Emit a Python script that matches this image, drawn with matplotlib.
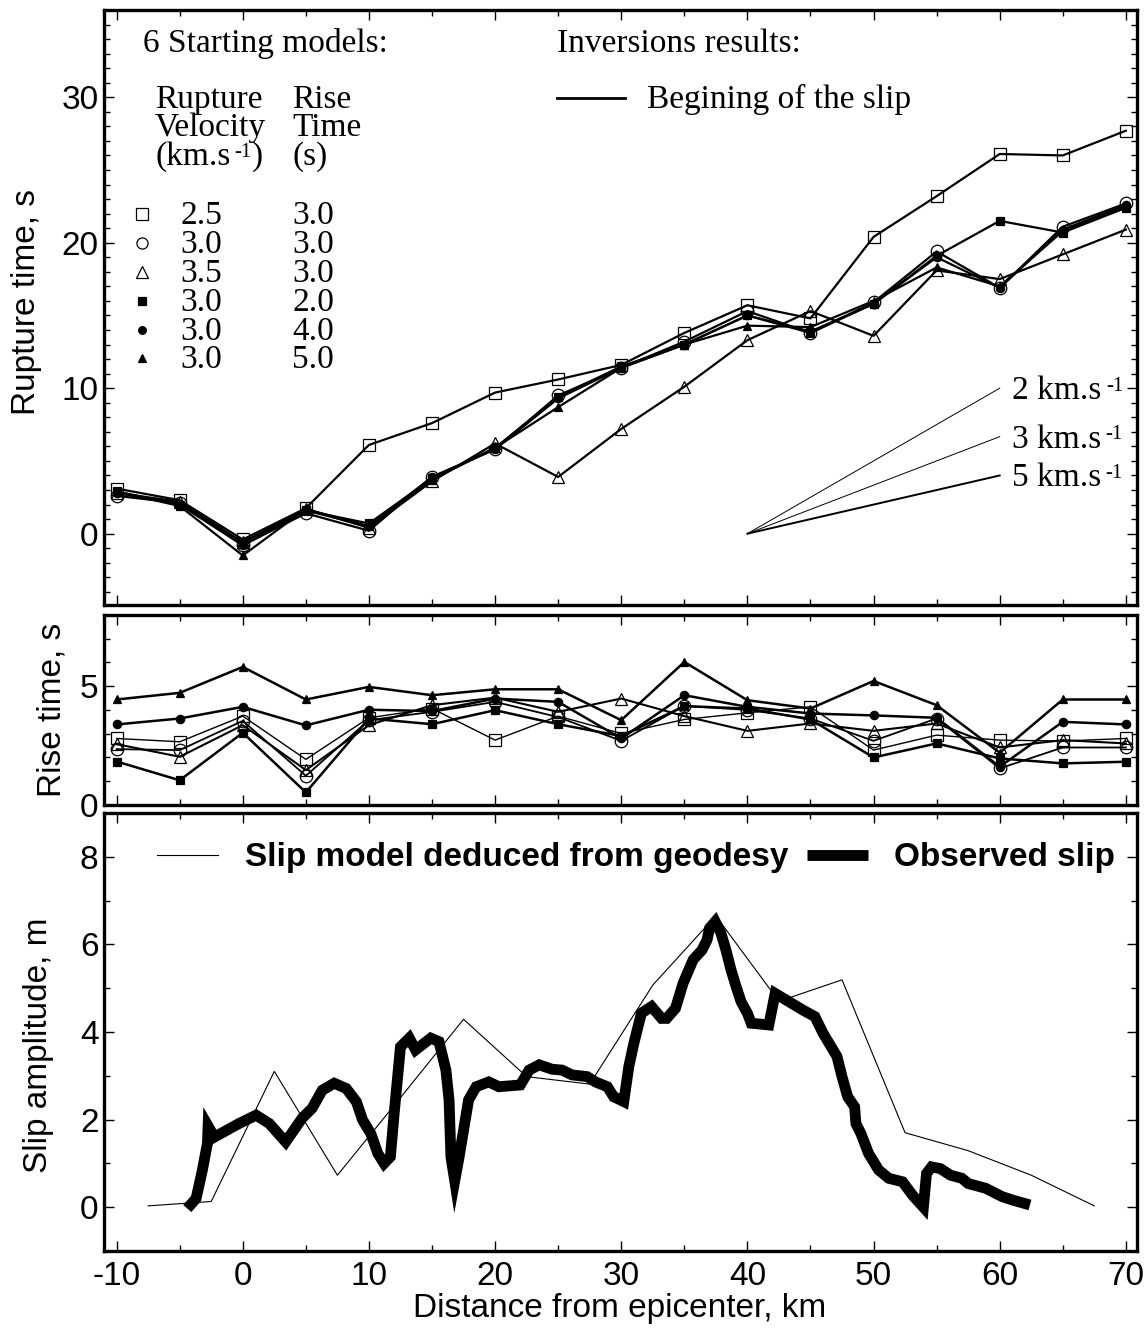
import numpy as np
import matplotlib.pyplot as plt
from matplotlib.ticker import MultipleLocator

plt.rcParams['font.family'] = ['Liberation Sans', 'DejaVu Sans']
plt.rcParams['axes.unicode_minus'] = False

# --- data ---
distance = [-10, -5, 0, 5, 10, 15, 20, 25, 30, 35, 40, 45, 50, 55, 60, 65, 70]

start_velocity = ['2.5', '3.0', '3.5', '3.0', '3.0', '3.0']
start_rise = ['3.0', '3.0', '3.0', '2.0', '4.0', '5.0']
markers = ['s', 'o', '^', 's', 'o', '^']
filled = [False, False, False, True, True, True]

# rupture time (s), one list per starting model
rupt_v25_r3 = [3.1, 2.3, -0.4, 1.75, 6.1, 7.6, 9.7, 10.6, 11.6, 13.8, 15.7, 14.8, 20.4, 23.2, 26.1, 26.0, 27.7]
rupt_v30_r3 = [2.6, 2.1, -0.8, 1.4, 0.2, 3.9, 5.8, 9.5, 11.4, 13.2, 15.3, 13.8, 15.9, 19.4, 16.9, 21.1, 22.7]
rupt_v35_r3 = [2.8, 2.2, -0.6, 1.7, 0.4, 3.6, 6.2, 3.9, 7.2, 10.1, 13.3, 15.3, 13.6, 18.1, 17.5, 19.2, 20.9]
rupt_v30_r2 = [2.9, 2.0, -0.6, 1.6, 0.7, 3.8, 5.9, 9.4, 11.5, 13.0, 15.0, 13.8, 15.8, 19.1, 21.5, 20.7, 22.4]
rupt_v30_r4 = [2.8, 2.0, -0.8, 1.6, 0.5, 3.9, 5.8, 9.3, 11.4, 13.0, 15.0, 13.9, 15.8, 19.0, 16.9, 20.9, 22.6]
rupt_v30_r5 = [2.9, 1.9, -1.5, 1.7, 0.5, 3.7, 5.9, 8.7, 11.4, 13.0, 14.3, 14.2, 16.0, 18.3, 17.0, 20.8, 22.5]

# rise time (s)
rise_v25_r3 = [2.80, 2.66, 3.74, 1.92, 3.67, 4.06, 2.73, 3.74, 3.01, 3.60, 3.88, 4.13, 2.31, 2.94, 2.73, 2.69, 2.80]
rise_v30_r3 = [2.35, 2.31, 3.54, 1.23, 3.57, 3.92, 4.34, 3.70, 2.70, 4.17, 4.00, 3.64, 2.70, 3.64, 1.54, 2.42, 2.42]
rise_v35_r3 = [2.56, 2.03, 3.36, 1.47, 3.36, 4.20, 4.52, 3.92, 4.48, 3.74, 3.12, 3.43, 3.12, 3.43, 2.42, 2.73, 2.59]
rise_v30_r2 = [1.83, 1.04, 3.04, 0.53, 3.64, 3.40, 3.99, 3.40, 2.90, 4.16, 4.06, 3.60, 2.00, 2.59, 1.96, 1.75, 1.82]
rise_v30_r4 = [3.39, 3.64, 4.13, 3.35, 4.01, 3.95, 4.48, 4.34, 2.80, 4.62, 4.13, 3.85, 3.77, 3.67, 1.61, 3.50, 3.39]
rise_v30_r5 = [4.44, 4.72, 5.81, 4.44, 4.97, 4.62, 4.87, 4.87, 3.57, 6.02, 4.41, 4.06, 5.22, 4.20, 2.20, 4.44, 4.44]

rupture_series = [rupt_v25_r3, rupt_v30_r3, rupt_v35_r3, rupt_v30_r2, rupt_v30_r4, rupt_v30_r5]
rise_series = [rise_v25_r3, rise_v30_r3, rise_v35_r3, rise_v30_r2, rise_v30_r4, rise_v30_r5]

# reference rupture velocities drawn from (40 km, 0 s) to 60 km
ref_labels = ['2', '3', '5']
ref_start_km = 40
ref_end_km = 60
ref_end_time = [10.0, 6.67, 4.0]

# slip from geodesy
geo_x = [-7.5, -2.5, 2.5, 7.5, 12.5, 17.5, 22.5, 27.5, 32.5, 37.5, 42.5, 47.5, 52.5, 57.5, 62.5, 67.5]
geo_slip = [0.03, 0.13, 3.1, 0.73, 2.5, 4.29, 2.98, 2.81, 5.07, 6.65, 4.7, 5.19, 1.70, 1.29, 0.73, 0.03]

# observed slip
obs_x = [-4.4, -3.7, -3.2, -2.8, -2.75, -2.25, -0.3, 1.05, 2.1, 3.4, 4.7, 5.5, 6.3, 7.25,
         8.2, 9.0, 9.5, 10.15, 10.7, 11.2, 11.7, 12.0, 12.5, 13.2, 13.7, 14.9, 15.55, 16.1,
         16.35, 16.5, 16.8, 17.15, 17.9, 18.5, 19.5, 20.3, 22.0, 22.7, 23.5, 24.5, 25.3,
         26.1, 27.3, 27.95, 28.9, 29.4, 29.7, 30.2, 30.6, 31.0, 31.6, 32.4, 33.2, 33.6,
         34.3, 34.9, 35.7, 36.4, 36.8, 37.0, 37.45, 37.9, 38.3, 38.7, 39.1, 39.5, 40.0,
         40.3, 41.7, 42.2, 43.3, 44.4, 45.35, 46.0, 47.1, 47.5, 47.95, 48.5, 48.6, 49.0,
         49.6, 50.4, 51.2, 52.3, 53.1, 53.95, 54.2, 54.6, 55.3, 56.1, 57.0, 57.5, 58.9,
         60.2, 61.05, 62.4]
obs_slip = [-0.03, 0.2, 0.85, 1.46, 1.85, 1.6, 1.91, 2.1, 1.91, 1.49, 2.03, 2.26, 2.67, 2.83,
            2.71, 2.41, 1.99, 1.68, 1.23, 1.0, 1.15, 2.14, 3.66, 3.86, 3.59, 3.86, 3.78, 3.13,
            2.45, 1.15, 0.6, 1.15, 2.45, 2.75, 2.86, 2.75, 2.79, 3.13, 3.25, 3.15, 3.13,
            3.02, 2.98, 2.86, 2.75, 2.52, 2.48, 2.41, 3.21, 3.74, 4.43, 4.58, 4.31, 4.31,
            4.54, 5.11, 5.65, 5.87, 6.1, 6.37, 6.52, 6.26, 5.87, 5.42, 5.04, 4.69, 4.43,
            4.2, 4.16, 4.88, 4.69, 4.5, 4.35, 3.97, 3.44, 2.98, 2.52, 2.29, 1.91, 1.68,
            1.23, 0.85, 0.66, 0.58, 0.27, 0.0, 0.77, 0.92, 0.88, 0.73, 0.66, 0.54, 0.43,
            0.24, 0.16, 0.05]

# --- figure ---
fig = plt.figure(figsize=(11.48, 13.29), dpi=100)
left, width = 0.0906, 0.900
ax1 = fig.add_axes([left, 0.5448, width, 0.4477])
ax2 = fig.add_axes([left, 0.3943, width, 0.1430])
ax3 = fig.add_axes([left, 0.0587, width, 0.3296])

serif = ['Liberation Serif', 'DejaVu Serif']
FS = 24
FS_SUP = 15


def km_per_s(ax, x, y, head, tail='', **kw):
    # "km.s" followed by a small raised "-1" (and an optional closing bracket)
    main = ax.text(x, y, head, family=serif, fontsize=FS, va='baseline', ha='left', **kw)
    sup = ax.annotate('-1', xy=(1, 1), xycoords=main, xytext=(3, -1), textcoords='offset points',
                      family=serif, fontsize=FS_SUP, va='top', ha='left')
    if tail:
        ax.annotate(tail, xy=(1, 0), xycoords=(sup, main), xytext=(0, 0),
                    textcoords='offset points', family=serif, fontsize=FS,
                    va='bottom', ha='left')
    return main


for ax in (ax1, ax2, ax3):
    ax.set_xlim(-11, 70.9)
    ax.xaxis.set_major_locator(MultipleLocator(10))
    ax.xaxis.set_minor_locator(MultipleLocator(5))
    ax.tick_params(which='both', direction='in', top=True, right=True, width=1.0,
                   labelsize=FS)
    ax.tick_params(which='major', length=7, pad=4)
    ax.tick_params(which='minor', length=4)
    for s in ax.spines.values():
        s.set_linewidth(2.4)
    if ax is not ax3:
        ax.tick_params(labelbottom=False)

# rupture time panel
for vals, mk, fill in zip(rupture_series, markers, filled):
    ms = 6 if fill else 9
    if mk == '^' and fill:
        ms = 5.5
    ax1.plot(distance, vals, color='k', lw=1.6, marker=mk, ms=ms,
             mfc='k' if fill else 'none', mec='k', mew=0.9)

for lab, t_end in zip(ref_labels, ref_end_time):
    lw = 1.4 if lab == '5' else 0.7
    ax1.plot([ref_start_km, ref_end_km], [0, t_end], color='k', lw=lw)
    km_per_s(ax1, ref_end_km + 1.0, t_end - 0.75, lab + ' km.s')

ax1.set_ylim(-4.9, 36)
ax1.yaxis.set_major_locator(MultipleLocator(10))
ax1.yaxis.set_minor_locator(MultipleLocator(1))
ax1.set_ylabel('Rupture time, s', fontsize=FS)
ax1.yaxis.set_label_coords(-0.06, 0.51)


# legend block (axes fraction positions)
def fx(px):
    return (px - 104) / 1033.0


def fy(py):
    return (605 - py) / 595.0


tr = ax1.transAxes
ax1.text(fx(143), fy(52), '6 Starting models:', transform=tr, family=serif, fontsize=FS, va='baseline')
ax1.text(fx(557), fy(52), 'Inversions results:', transform=tr, family=serif, fontsize=FS, va='baseline')
ax1.plot([fx(557), fx(625)], [fy(98), fy(98)], transform=tr, color='k', lw=2.0)
ax1.text(fx(647), fy(108), 'Begining of the slip', transform=tr, family=serif, fontsize=FS, va='baseline')
for k, head in enumerate(['Rupture', 'Velocity']):
    ax1.text(fx(155), fy(108 + 28.5 * k), head, transform=tr, family=serif, fontsize=FS, va='baseline')
km_per_s(ax1, fx(155), fy(108 + 28.5 * 2), '(km.s', ')', transform=tr)
for k, head in enumerate(['Rise', 'Time', '(s)']):
    ax1.text(fx(292), fy(108 + 28.5 * k), head, transform=tr, family=serif, fontsize=FS, va='baseline')
for k in range(len(start_velocity)):
    base = 224 + 28.9 * k
    fill = filled[k]
    ms = 5.5 if fill else 8
    ax1.plot([fx(142)], [fy(base - 10)], transform=tr, marker=markers[k], ms=ms,
             mfc='k' if fill else 'none', mec='k', mew=0.9, ls='none')
    ax1.text(fx(180), fy(base), start_velocity[k], transform=tr, family=serif, fontsize=FS, va='baseline')
    ax1.text(fx(292), fy(base), start_rise[k], transform=tr, family=serif, fontsize=FS, va='baseline')

# rise time panel
rise_lw = [1.0, 1.3, 1.5, 1.8, 1.8, 1.8]
for vals, mk, fill, lw in zip(rise_series, markers, filled, rise_lw):
    ms = 6 if fill else 9
    if mk == '^' and fill:
        ms = 5.5
    ax2.plot(distance, vals, color='k', lw=lw, marker=mk, ms=ms,
             mfc='k' if fill else 'none', mec='k', mew=0.9)
ax2.set_ylim(0, 8)
ax2.yaxis.set_major_locator(MultipleLocator(5))
ax2.yaxis.set_minor_locator(MultipleLocator(1))
ax2.set_ylabel('Rise time, s', fontsize=FS)
ax2.yaxis.set_label_coords(-0.035, 0.5)

# slip panel
ax3.plot(geo_x, geo_slip, color='k', lw=0.8, label='Slip model deduced from geodesy')
ax3.plot(obs_x, obs_slip, color='k', lw=7.8, solid_joinstyle='miter', solid_capstyle='butt',
         label='Observed slip')
ax3.set_ylim(-1, 9)
ax3.yaxis.set_major_locator(MultipleLocator(2))
ax3.yaxis.set_minor_locator(MultipleLocator(1))
ax3.set_ylabel('Slip amplitude, m', fontsize=FS)
ax3.yaxis.set_label_coords(-0.048, 0.47)
ax3.set_xlabel('Distance from epicenter, km', fontsize=FS)
ax3.xaxis.set_label_coords(0.4995, -0.095)
ax3.tick_params(axis='x', pad=7)

leg = ax3.legend(ncol=2, loc='center left', bbox_to_anchor=((157 - 104) / 1033, (1251 - 858) / 438),
                 frameon=False, borderpad=0, borderaxespad=0, handlelength=1.83,
                 handletextpad=0.8, columnspacing=0.55, prop={'weight': 'bold', 'size': FS})

fig.savefig('out.png', dpi=100, facecolor='white')
